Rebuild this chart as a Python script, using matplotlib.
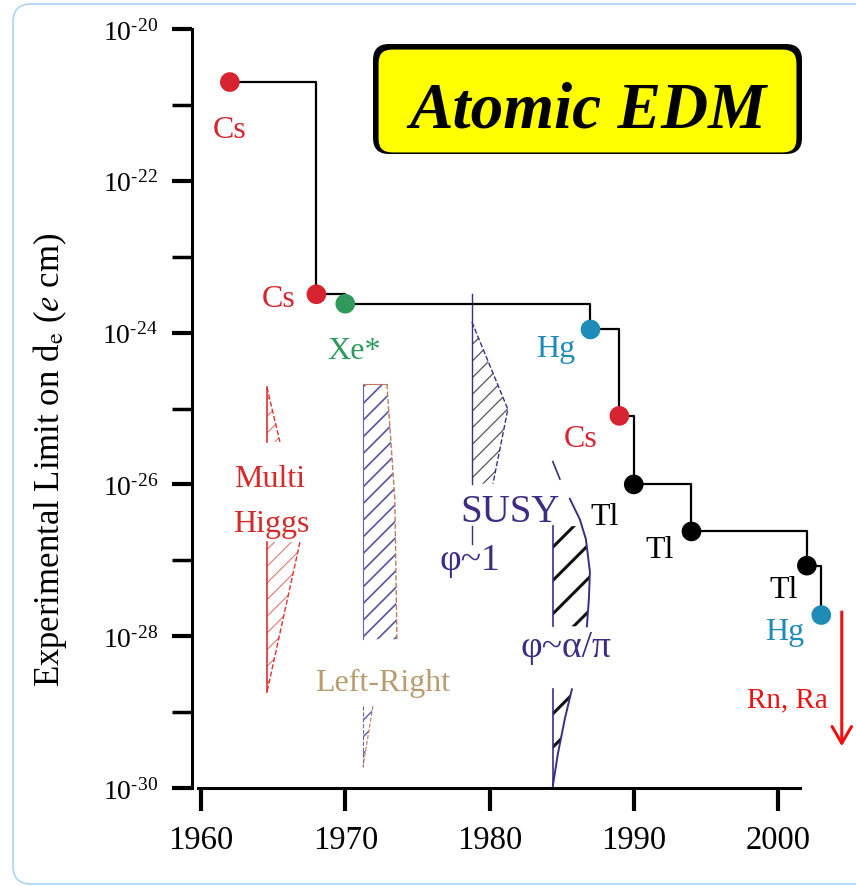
import matplotlib
matplotlib.use('Agg')
import matplotlib.pyplot as plt
from matplotlib.patches import Polygon, FancyBboxPatch
from matplotlib.transforms import IdentityTransform

plt.rcParams['font.family'] = ['Liberation Serif', 'DejaVu Serif']
plt.rcParams['mathtext.fontset'] = 'stix'

# ---------------- data ----------------
years = [1962, 1968, 1970, 1987, 1989, 1990, 1994, 2002, 2003]
limits = [2.0e-21, 3.2e-24, 2.4e-24, 1.1e-24, 8.0e-26, 1.0e-26, 2.4e-27, 8.5e-28, 1.9e-28]
species = ['Cs', 'Cs', 'Xe*', 'Hg', 'Cs', 'Tl', 'Tl', 'Tl', 'Hg']

xticks = [1960, 1970, 1980, 1990, 2000]
ytick_exps = [-30, -28, -26, -24, -22, -20]
yminor_exps = [-29, -27, -25, -23, -21]

# theory regions (year, log10 limit)
mh_upper = [(1964.57, -24.72), (1965.47, -25.44), (1964.57, -25.44)]
mh_lower = [(1964.57, -26.76), (1966.86, -26.76), (1964.57, -28.74)]
lr_upper = [(1971.23, -24.68), (1972.89, -24.68), (1973.44, -26.2),
            (1973.58, -28.04), (1971.23, -28.04)]
lr_lower = [(1971.23, -28.92), (1971.92, -28.92), (1971.23, -29.72)]
susy1 = [(1978.78, -23.86), (1981.27, -25.01), (1980.24, -25.99), (1978.78, -25.99)]
susy_a_upper = [(1984.39, -26.55), (1986.40, -26.55), (1986.68, -26.72),
                (1986.96, -27.15), (1986.89, -27.51), (1986.75, -27.87),
                (1984.39, -27.87)]
susy_a_lower = [(1984.39, -28.70), (1985.71, -28.70), (1985.22, -29.09),
                (1984.74, -29.55), (1984.39, -29.97)]
susy_a_curve_top = [(1984.39, -25.70), (1984.88, -25.93)]
susy_a_curve_mid = [(1985.57, -26.19), (1986.26, -26.46), (1986.68, -26.72),
                    (1986.96, -27.15), (1986.89, -27.51), (1986.75, -27.87)]

# ---------------- style ----------------
col = {'Cs': '#d62430', 'Xe*': '#2f9a5c', 'Hg': '#1f8bb8', 'Tl': '#000000'}
indigo = '#3d2c84'
label_offsets = [(0, -34), (-27, -3), (6, -34), (-25, -14), (-28, -16),
                 (-21, -23), (-23, -13), (-17, -17), (-26, -12)]

W, H = 856, 887
fig = plt.figure(figsize=(W / 100, H / 100), dpi=100)
ax = fig.add_axes([192 / W, 1 - 789 / H, 658 / W, 759 / H])
ax.set_yscale('log')
ax.set_xlim(1959.376, 2004.99)
ax.set_ylim(1e-30, 1e-20)

# frame
frame = FancyBboxPatch((13, H - 885), 880, 880, boxstyle='round,pad=0,rounding_size=18',
                       transform=IdentityTransform(), fill=False, ec='#a9d5f5', lw=1.2,
                       clip_on=False)
fig.patches.append(frame)


def pts(poly):
    return [(x, 10.0 ** e) for x, e in poly]


def hatch_poly(poly, color, lw_hatch, hatch='//', z=2):
    p = Polygon(pts(poly), closed=True, fill=False, hatch=hatch, edgecolor=color,
                linewidth=0, zorder=z)
    try:
        p.set_hatch_linewidth(lw_hatch)
    except Exception:
        pass
    ax.add_patch(p)


def line(poly, color, lw, ls='-', z=3):
    xs = [x for x, e in poly]
    ys = [10.0 ** e for x, e in poly]
    ax.plot(xs, ys, color=color, lw=lw, ls=ls, zorder=z)


# Multi Higgs
hatch_poly(mh_upper, '#e07a74', 0.8)
hatch_poly(mh_lower, '#e07a74', 0.8)
line([mh_upper[0], mh_upper[2]], '#e03030', 1.2)
line(mh_upper[:2], '#e03030', 1.0, '--')
line([mh_lower[0], mh_lower[2]], '#e03030', 1.2)
line(mh_lower[1:], '#e03030', 1.0, '--')

# Left-Right
hatch_poly(lr_upper, '#5b52a8', 1.2)
hatch_poly(lr_lower, '#5b52a8', 1.0)
line([lr_upper[0], lr_upper[4]], '#6a60b0', 0.8)
line(lr_upper[1:4], '#c07a60', 1.0, '--')
line([lr_upper[0], lr_upper[1]], '#c07a60', 0.8)
line([lr_lower[0], lr_lower[2]], '#6a60b0', 0.8, '--')
line(lr_lower[1:], '#c07a60', 0.8, '--')

# SUSY phi~1
hatch_poly(susy1, '#555555', 0.9)
line([(1978.78, -23.49), (1978.78, -25.99)], indigo, 1.0)
line([(1978.78, -26.55), (1978.78, -26.79)], indigo, 1.0)
line(susy1[:3], indigo, 1.0, '--')

# SUSY phi~alpha/pi
hatch_poly(susy_a_upper, '#111111', 2.2, hatch='/')
hatch_poly(susy_a_lower, '#111111', 2.2, hatch='/')
line([(1984.39, -26.55), (1984.39, -27.87)], indigo, 1.2)
line([(1984.39, -28.70), (1984.39, -29.97)], indigo, 1.2)
line(susy_a_curve_top, indigo, 1.2)
line(susy_a_curve_mid, indigo, 1.4)
line(susy_a_lower[1:], indigo, 1.4)

# step line & points
ax.step(years, limits, where='post', color='black', lw=1.6, zorder=4)
ax.scatter(years, limits, s=200, c=[col[s] for s in species], zorder=5, linewidths=0)
for yr, lim, sp, off in zip(years, limits, species, label_offsets):
    ax.annotate(sp, (yr, lim), xytext=off, textcoords='offset points',
                ha='center', va='center', color=col[sp], fontsize=23, zorder=6)

# theory labels
ax.text(1964.78, 10 ** -26.02, 'Multi', color='#d42a2a', fontsize=23, ha='center', va='baseline')
ax.text(1964.85, 10 ** -26.61, 'Higgs', color='#d42a2a', fontsize=23, ha='center', va='baseline')
ax.text(1972.61, 10 ** -28.71, 'Left-Right', color='#b89c70', fontsize=23, ha='center', va='baseline')
ax.text(1981.41, 10 ** -26.48, 'SUSY', color=indigo, fontsize=28, ha='center', va='baseline')
ax.text(1978.64, 10 ** -27.11, 'φ~1', color=indigo, fontsize=27, ha='center', va='baseline')
ax.text(1985.29, 10 ** -28.26, 'φ~α/π', color=indigo, fontsize=27, ha='center', va='baseline')
ax.text(2000.68, 10 ** -28.93, 'Rn, Ra', color='#ee1111', fontsize=21, ha='center', va='baseline')
ax.annotate('', xy=(2004.42, 10 ** -29.45), xytext=(2004.42, 10 ** -27.68),
            arrowprops=dict(arrowstyle='->,head_length=0.6,head_width=0.35',
                            color='#ee1111', lw=2.2, mutation_scale=20,
                            shrinkA=0, shrinkB=0), annotation_clip=False)

# axes styling
for s in ['top', 'right']:
    ax.spines[s].set_visible(False)
ax.spines['left'].set_linewidth(2.2)
ax.spines['bottom'].set_linewidth(2.2)
ax.spines['bottom'].set_bounds(1959.8, 2001.5)

ax.set_xticks(xticks)
ax.set_xticklabels([str(x) for x in xticks], fontsize=23.5)
ax.set_yticks([10.0 ** e for e in ytick_exps])
ax.set_yticklabels([r'$\mathregular{10^{\text{-}%d}}$' % abs(e) for e in ytick_exps], fontsize=20)
ax.set_yticks([10.0 ** e for e in yminor_exps], minor=True)
ax.set_yticklabels([], minor=True)
ax.tick_params(axis='x', direction='out', length=16.5, width=3, pad=10)
ax.tick_params(axis='y', which='major', direction='out', length=14.4, width=3, pad=10)
ax.tick_params(axis='y', which='minor', direction='out', length=14.4, width=2.5)

fig.text(50 / W, 1 - 460 / H, r'Experimental Limit on d$_\mathrm{e}$ ($\mathit{e}$ cm)',
         rotation=90, ha='center', va='center', fontsize=25)

# title box
shadow = FancyBboxPatch((373, H - 155), 429, 110, boxstyle='round,pad=0,rounding_size=16',
                        transform=IdentityTransform(), fc='black', ec='black', lw=0)
box = FancyBboxPatch((378, H - 154), 419, 104, boxstyle='round,pad=0,rounding_size=14',
                     transform=IdentityTransform(), fc='#ffff00', ec='black', lw=0.8)
fig.patches.append(shadow)
fig.patches.append(box)
fig.text(588 / W, 1 - 128 / H, 'Atomic EDM', fontsize=47, fontweight='bold',
         fontstyle='italic', ha='center', va='baseline')

fig.savefig('out.png', dpi=100)
